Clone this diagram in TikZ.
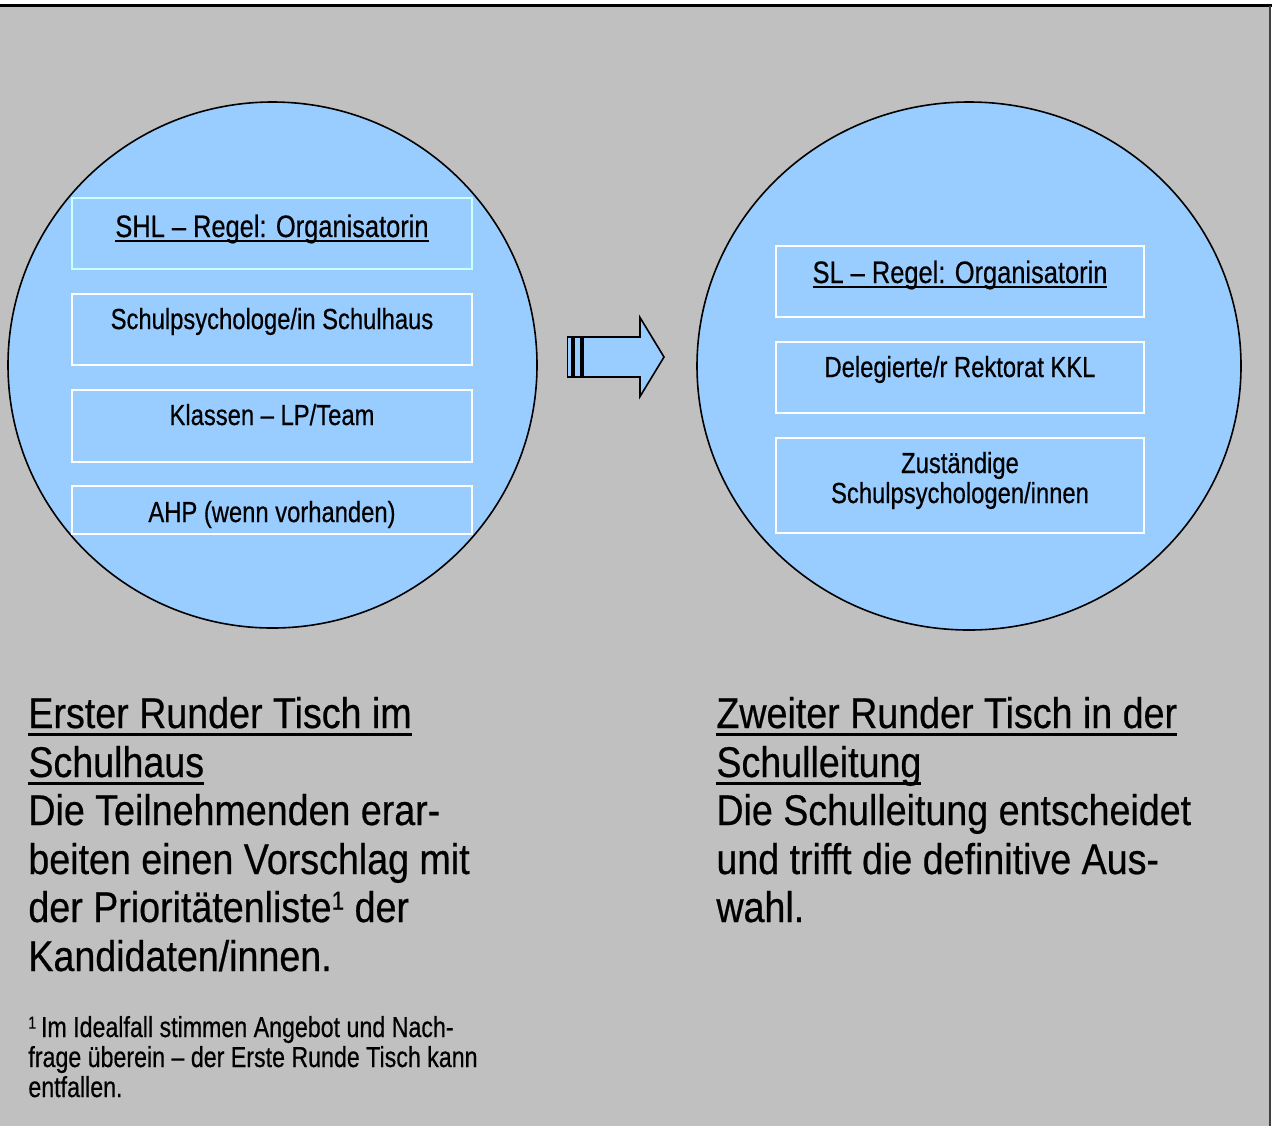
\documentclass[tikz,border=0pt]{standalone}
\usepackage{fontspec}
\setmainfont{Liberation Sans}[FakeStretch=0.82, FakeBold=0.5]
\newfontfamily{\bigfam}{Liberation Sans}[FakeStretch=0.875, FakeBold=0.5]
\newfontfamily{\footfam}{Liberation Sans}[FakeStretch=0.80, FakeBold=0.5]
\usetikzlibrary{shapes.geometric}
\definecolor{bggray}{HTML}{C0C0C0}
\definecolor{circblue}{HTML}{99CCFF}
\definecolor{lightcyan}{HTML}{CCFFFF}
\newcommand{\boxfont}{\fontsize{14.5}{15}\selectfont}
\newcommand{\headfont}{\fontsize{15.5}{16}\selectfont}
\newcommand{\bigfont}{\bigfam\fontsize{21.5}{24.25}\selectfont}
\newcommand{\footfont}{\footfam\fontsize{14.5}{15}\selectfont}
\newlength{\myulw}
\newcommand{\myul}[3]{\settowidth{\myulw}{#3}\rlap{\rule[#1]{\myulw}{#2}}#3}
\newcommand{\ulbox}[1]{\myul{-2.6pt}{1.1pt}{#1}}
\newcommand{\ulbig}[1]{\myul{-4pt}{1.6pt}{#1}}
\newcommand{\supone}{\raisebox{0.55ex}{\fontsize{0.6em}{1em}\selectfont 1}}
\begin{document}
\begin{tikzpicture}[x=0.5pt,y=-0.5pt,
  table/.style={ellipse, draw=black, line width=0.8pt, fill=circblue, inner sep=0pt},
  member/.style={rectangle, draw=white, line width=1pt, inner sep=0pt},
  boxtext/.style={anchor=base, inner sep=0pt, font=\boxfont},
  headtext/.style={anchor=base, inner sep=0pt, font=\headfont},
  bigline/.style={anchor=base west, inner sep=0pt, font=\bigfont},
  footline/.style={anchor=base west, inner sep=0pt, font=\footfont}]
\useasboundingbox (0,0) rectangle (1272,1126);
\fill[white] (0,0) rectangle (1272,1126);
\fill[bggray] (0,6) rectangle (1270,1126);
\draw[line width=1.1pt, black] (0,5.5) -- (1272,5.5);
\draw[line width=0.9pt, black!75] (1270,5.5) -- (1270,1126);

% circles
\node[table, minimum width=264.5pt, minimum height=263pt] (lc) at (272.5,365) {};
\node[table, minimum width=272pt, minimum height=264pt] (rc) at (969,366) {};

% left boxes
\node[member, draw=lightcyan, minimum width=200pt, minimum height=35.5pt] (l1) at (272,233.5) {};
\node[member, minimum width=200pt, minimum height=35.5pt] (l2) at (272,329.5) {};
\node[member, minimum width=200pt, minimum height=36pt] (l3) at (272,426) {};
\node[member, minimum width=200pt, minimum height=24pt] (l4) at (272,510) {};
\node[headtext] (l1t) at (272,237) {\ulbox{SHL – Regel: Organisatorin}};
\node[boxtext] (l2t) at (272,329) {Schulpsychologe/in Schulhaus};
\node[boxtext] (l3t) at (272,425) {Klassen – LP/Team};
\node[boxtext] (l4t) at (272,522) {AHP (wenn vorhanden)};

% right boxes
\node[member, minimum width=184pt, minimum height=35.5pt] (r1) at (960,281.5) {};
\node[member, minimum width=184pt, minimum height=35.5pt] (r2) at (960,377.5) {};
\node[member, minimum width=184pt, minimum height=47.5pt] (r3) at (960,485.5) {};
\node[headtext] (r1t) at (960,283) {\ulbox{SL – Regel: Organisatorin}};
\node[boxtext] (r2t) at (960,377) {Delegierte/r Rektorat KKL};
\node[boxtext] (r3t) at (960,473) {Zuständige};
\node[boxtext] (r3u) at (960,503) {Schulpsychologen/innen};

% block arrow
\begin{scope}[line width=0.8pt, fill=circblue, draw=black]
\filldraw (567.5,337) rectangle (572,377);
\filldraw (574,337) rectangle (581,377);
\filldraw (583,337) -- (640,337) -- (640,317.5) -- (664,357) -- (640,396.5) -- (640,377) -- (583,377) -- cycle;
\end{scope}

% left text
\node[bigline] (a1) at (28,728) {\ulbig{Erster Runder Tisch im}};
\node[bigline] (a2) at (28,777) {\ulbig{Schulhaus}};
\node[bigline] (a3) at (28,825) {Die Teilnehmenden erar-};
\node[bigline] (a4) at (28,874) {beiten einen Vorschlag mit};
\node[bigline] (a5) at (28,922) {der Prioritätenliste\supone{} der};
\node[bigline] (a6) at (28,971) {Kandidaten/innen.};

\node[footline] (f1) at (28,1037) {\supone\,Im Idealfall stimmen Angebot und Nach-};
\node[footline] (f2) at (28,1067) {frage überein – der Erste Runde Tisch kann};
\node[footline] (f3) at (28,1097) {entfallen.};

% right text
\node[bigline] (b1) at (716,728) {\ulbig{Zweiter Runder Tisch in der}};
\node[bigline] (b2) at (716,777) {\ulbig{Schulleitung}};
\node[bigline] (b3) at (716,825) {Die Schulleitung entscheidet};
\node[bigline] (b4) at (716,874) {und trifft die definitive Aus-};
\node[bigline] (b5) at (716,922) {wahl.};
\end{tikzpicture}
\end{document}
